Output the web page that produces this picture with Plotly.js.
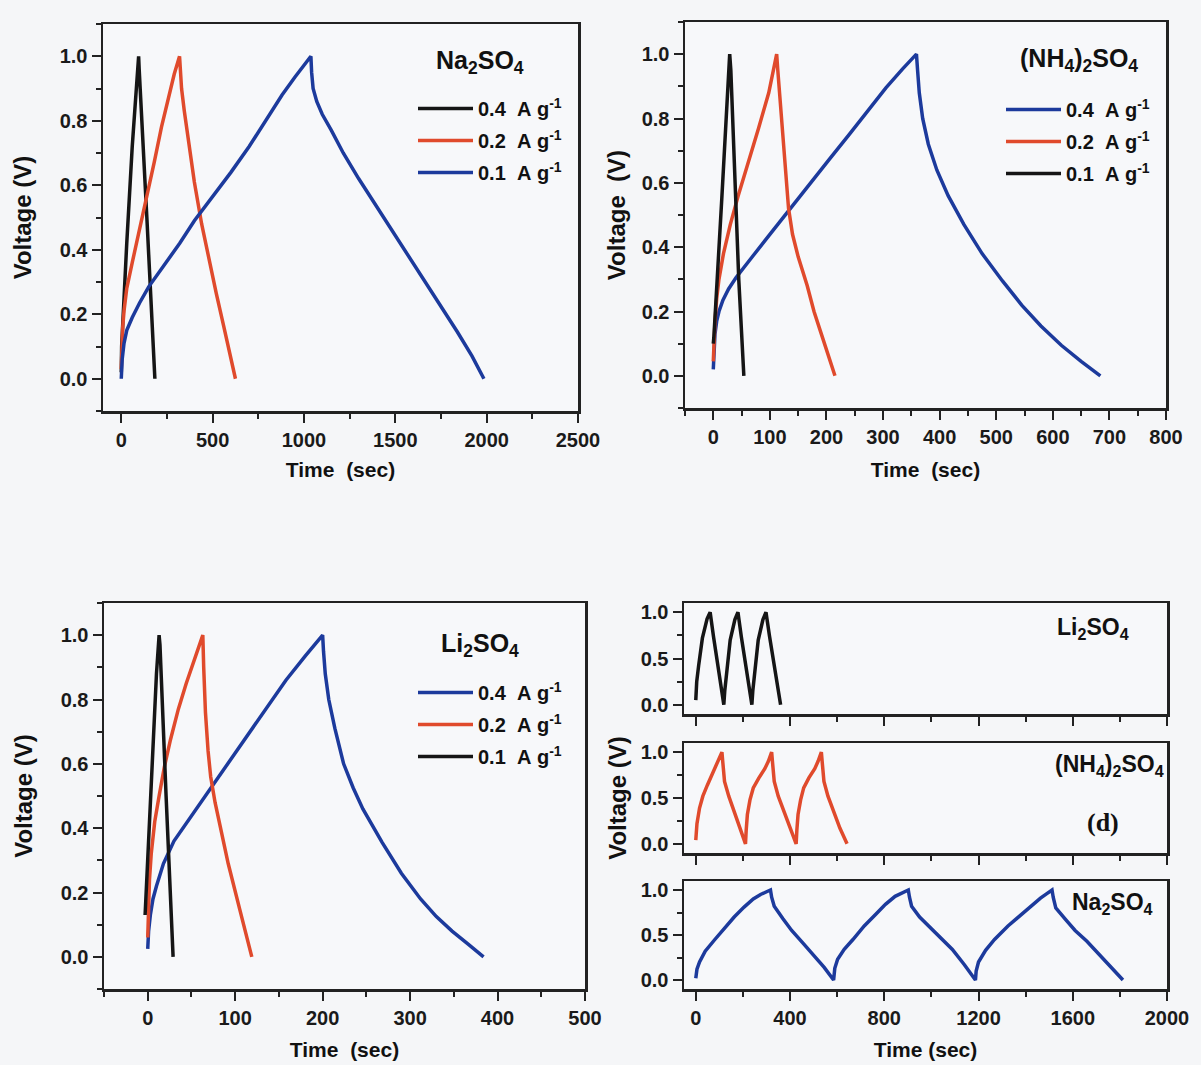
<!DOCTYPE html>
<html>
<head>
<meta charset="utf-8">
<script src="https://cdn.plot.ly/plotly-3.0.1.min.js"></script>
<style>html,body{margin:0;padding:0;background:#f5f6f8;}#chart{width:1201px;height:1065px;}</style>
</head>
<body>
<div id="chart"></div>
<script>
// ---------- DATA ----------
// Panel (a): Na2SO4, three current densities
const naSeries = ['0.4\u00a0\u00a0A\u00a0g<sup>-1</sup>', '0.2\u00a0\u00a0A\u00a0g<sup>-1</sup>', '0.1\u00a0\u00a0A\u00a0g<sup>-1</sup>'];
const naBlackT = [0, 2, 30, 60, 95, 98, 140, 184];
const naBlackV = [0.02, 0.1, 0.42, 0.72, 1.0, 0.96, 0.5, 0.0];
const naRedT = [0, 3, 8, 15, 30, 60, 100, 140, 180, 220, 260, 290, 319, 322, 330, 345, 370, 400, 440, 480, 520, 560, 600, 625];
const naRedV = [0.03, 0.1, 0.16, 0.21, 0.28, 0.36, 0.46, 0.56, 0.67, 0.78, 0.88, 0.945, 1.0, 0.96, 0.9, 0.83, 0.73, 0.61, 0.48, 0.37, 0.265, 0.165, 0.07, 0.0];
const naBlueT = [0, 5, 15, 30, 60, 100, 150, 200, 260, 320, 400, 500, 600, 700, 800, 880, 950, 1000, 1038, 1042, 1050, 1070, 1100, 1150, 1215, 1300, 1420, 1520, 1630, 1740, 1840, 1920, 1985];
const naBlueV = [0.0, 0.06, 0.11, 0.15, 0.19, 0.235, 0.285, 0.325, 0.372, 0.42, 0.49, 0.565, 0.64, 0.72, 0.81, 0.88, 0.935, 0.97, 1.0, 0.95, 0.9, 0.86, 0.82, 0.77, 0.70, 0.62, 0.515, 0.425, 0.33, 0.235, 0.145, 0.07, 0.0];

// Panel (b): (NH4)2SO4
const nhSeries = ['0.4\u00a0\u00a0A\u00a0g<sup>-1</sup>', '0.2\u00a0\u00a0A\u00a0g<sup>-1</sup>', '0.1\u00a0\u00a0A\u00a0g<sup>-1</sup>'];
const nhBlueT = [0, 1, 3, 6, 10, 17, 27, 40, 55, 71, 100, 139, 170, 206, 240, 274, 305, 335, 359, 361, 364, 370, 380, 395, 415, 443, 475, 511, 545, 579, 615, 650, 684];
const nhBlueV = [0.02, 0.08, 0.13, 0.17, 0.2, 0.235, 0.27, 0.305, 0.34, 0.375, 0.44, 0.525, 0.595, 0.675, 0.75, 0.825, 0.895, 0.955, 1.0, 0.95, 0.88, 0.8, 0.72, 0.64, 0.56, 0.47, 0.38, 0.295, 0.22, 0.155, 0.095, 0.045, 0.0];
const nhRedT = [0, 1, 3, 6, 10, 18, 30, 44, 60, 80, 98, 112, 114, 118, 123, 128, 133, 140, 150, 166, 178, 190, 203, 215];
const nhRedV = [0.045, 0.1, 0.17, 0.24, 0.3, 0.38, 0.47, 0.56, 0.65, 0.77, 0.88, 1.0, 0.95, 0.86, 0.74, 0.62, 0.52, 0.44, 0.37, 0.28, 0.2, 0.135, 0.065, 0.0];
const nhBlackT = [0, 1, 15, 29, 31, 45, 54];
const nhBlackV = [0.1, 0.12, 0.55, 1.0, 0.95, 0.3, 0.0];

// Panel (c): Li2SO4
const liSeries = ['0.4\u00a0\u00a0A\u00a0g<sup>-1</sup>', '0.2\u00a0\u00a0A\u00a0g<sup>-1</sup>', '0.1\u00a0\u00a0A\u00a0g<sup>-1</sup>'];
const liBlueT = [0, 1, 3, 6, 10, 18, 30, 48, 70, 92, 114, 136, 158, 180, 192, 200, 201, 203, 207, 214, 224, 235, 246, 268, 290, 312, 330, 348, 366, 384];
const liBlueV = [0.025, 0.08, 0.13, 0.18, 0.22, 0.29, 0.36, 0.43, 0.515, 0.60, 0.69, 0.775, 0.86, 0.935, 0.975, 1.0, 0.95, 0.88, 0.8, 0.71, 0.60, 0.525, 0.46, 0.356, 0.26, 0.18, 0.125, 0.08, 0.04, 0.0];
const liRedT = [0, 1, 2, 4, 8, 13, 19, 26, 35, 44, 53, 63, 64, 66, 69, 72, 77, 84, 92, 105, 119];
const liRedV = [0.06, 0.17, 0.24, 0.32, 0.42, 0.5, 0.59, 0.675, 0.77, 0.85, 0.92, 1.0, 0.9, 0.76, 0.64, 0.56, 0.48, 0.39, 0.29, 0.15, 0.0];
const liBlackT = [-3, -1, 2, 6, 10, 13, 14, 21, 29];
const liBlackV = [0.13, 0.25, 0.45, 0.7, 0.88, 1.0, 0.97, 0.5, 0.0];

// Panel (d): cycling at fixed current
const cycLiT = [0, 4, 12, 28, 48, 61, 75, 90, 105, 119, 123, 131, 146, 166, 179, 193, 208, 223, 238, 242, 250, 265, 285, 298, 313, 329, 345, 360];
const cycLiV = [0.05, 0.25, 0.42, 0.72, 0.93, 1.0, 0.74, 0.48, 0.23, 0.0, 0.15, 0.33, 0.70, 0.92, 1.0, 0.74, 0.48, 0.23, 0.0, 0.15, 0.33, 0.70, 0.92, 1.0, 0.74, 0.48, 0.23, 0.0];
const cycNhT = [0, 5, 16, 30, 49, 65, 81, 96, 111, 115, 122, 140, 163, 190, 211, 214, 219, 230, 244, 268, 293, 308, 322, 326, 333, 350, 373, 400, 426, 429, 434, 445, 458, 480, 505, 519, 533, 537, 544, 561, 584, 612, 642];
const cycNhV = [0.04, 0.22, 0.39, 0.52, 0.64, 0.73, 0.82, 0.9, 1.0, 0.88, 0.68, 0.52, 0.36, 0.17, 0.0, 0.15, 0.32, 0.48, 0.61, 0.72, 0.82, 0.9, 1.0, 0.88, 0.68, 0.52, 0.36, 0.17, 0.0, 0.15, 0.32, 0.48, 0.61, 0.72, 0.82, 0.9, 1.0, 0.88, 0.68, 0.52, 0.36, 0.17, 0.0];
const cycNaT = [0, 5, 16, 40, 81, 120, 163, 205, 244, 275, 300, 317, 322, 333, 370, 407, 455, 504, 545, 585, 590, 602, 630, 667, 715, 764, 805, 846, 875, 902, 907, 916, 950, 992, 1040, 1089, 1140, 1187, 1190, 1200, 1230, 1268, 1325, 1382, 1425, 1463, 1490, 1512, 1517, 1528, 1570, 1610, 1660, 1707, 1760, 1813];
const cycNaV = [0.02, 0.12, 0.2, 0.32, 0.45, 0.57, 0.70, 0.81, 0.9, 0.95, 0.98, 1.0, 0.92, 0.82, 0.68, 0.55, 0.41, 0.27, 0.14, 0.0, 0.13, 0.23, 0.34, 0.45, 0.6, 0.73, 0.84, 0.93, 0.97, 1.0, 0.92, 0.82, 0.7, 0.59, 0.465, 0.34, 0.17, 0.0, 0.1, 0.2, 0.33, 0.45, 0.6, 0.73, 0.83, 0.91, 0.96, 1.0, 0.92, 0.80, 0.67, 0.55, 0.43, 0.30, 0.15, 0.0];

const panelLabels = ['Na<sub>2</sub>SO<sub>4</sub>', '(NH<sub>4</sub>)<sub>2</sub>SO<sub>4</sub>', 'Li<sub>2</sub>SO<sub>4</sub>'];

// ---------- STYLE ----------
const BLACK = '#151515', RED = '#e04a2c', BLUE = '#1c3a9c';
const FONT = 'Liberation Sans, Arial, sans-serif';
const LW = 3.5;

function tr(x, y, color, name, xa, ya, legend, show) {
  return {x: x, y: y, type: 'scatter', mode: 'lines', name: name,
    line: {color: color, width: LW}, xaxis: xa, yaxis: ya,
    legend: legend, showlegend: show, legendgroup: name + xa, hoverinfo: 'skip'};
}

const traces = [
  tr(naBlackT, naBlackV, BLACK, naSeries[0], 'x', 'y', 'legend', true),
  tr(naRedT, naRedV, RED, naSeries[1], 'x', 'y', 'legend', true),
  tr(naBlueT, naBlueV, BLUE, naSeries[2], 'x', 'y', 'legend', true),
  tr(nhBlueT, nhBlueV, BLUE, nhSeries[0], 'x2', 'y2', 'legend2', true),
  tr(nhRedT, nhRedV, RED, nhSeries[1], 'x2', 'y2', 'legend2', true),
  tr(nhBlackT, nhBlackV, BLACK, nhSeries[2], 'x2', 'y2', 'legend2', true),
  tr(liBlueT, liBlueV, BLUE, liSeries[0], 'x3', 'y3', 'legend3', true),
  tr(liRedT, liRedV, RED, liSeries[1], 'x3', 'y3', 'legend3', true),
  tr(liBlackT, liBlackV, BLACK, liSeries[2], 'x3', 'y3', 'legend3', true),
  tr(cycNaT, cycNaV, BLUE, 'Na2SO4', 'x4', 'y4', 'legend', false),
  tr(cycLiT, cycLiV, BLACK, 'Li2SO4', 'x5', 'y5', 'legend', false),
  tr(cycNhT, cycNhV, RED, '(NH4)2SO4', 'x6', 'y6', 'legend', false)
];

const W = 1201, H = 1065;
const px = (a, b) => [a / W, b / W];
const py = (top, bot) => [1 - bot / H, 1 - top / H];

function minor(d) {
  return {ticks: 'outside', ticklen: 5, tickwidth: 2, tickcolor: '#222', dtick: d, showgrid: false};
}
function axis(extra) {
  return Object.assign({
    showline: true, linewidth: 2.5, linecolor: '#222', mirror: true,
    ticks: 'outside', ticklen: 9, tickwidth: 2, tickcolor: '#222',
    showgrid: false, zeroline: false, fixedrange: true,
    tickfont: {family: FONT, size: 20, color: '#1a1a1a', weight: 'bold'}
  }, extra);
}
const xTitleFont = {family: FONT, size: 21, color: '#111', weight: 'bold'};
const yTitleFont = {family: FONT, size: 24, color: '#111', weight: 'bold'};

const legendBase = {
  bgcolor: 'rgba(0,0,0,0)', borderwidth: 0, xanchor: 'left', yanchor: 'top',
  font: {family: FONT, size: 20, color: '#111', weight: 'bold'},
  tracegroupgap: 3, itemwidth: 55, itemclick: false, itemdoubleclick: false
};

function label(text, x, y, size, family) {
  return {text: text, xref: 'paper', yref: 'paper', x: x / W, y: 1 - y / H,
    xanchor: 'center', yanchor: 'middle', showarrow: false,
    font: {family: family || FONT, size: size, color: '#111', weight: 'bold'}};
}

const layout = {
  width: W, height: H, margin: {l: 0, r: 0, t: 0, b: 0},
  paper_bgcolor: '#f5f6f8', plot_bgcolor: '#f7f8fa',
  font: {family: FONT},
  // Panel a
  xaxis: axis({domain: px(103, 578), range: [-100, 2500], dtick: 500, tick0: 0, anchor: 'y', minor: minor(250),
    title: {text: 'Time\u00a0\u00a0(sec)', font: xTitleFont, standoff: 13}}),
  yaxis: axis({domain: py(24, 411), range: [-0.1, 1.1], dtick: 0.2, tick0: 0, tickformat: '.1f', anchor: 'x', minor: minor(0.1),
    title: {text: 'Voltage (V)', font: yTitleFont, standoff: 22}}),
  // Panel b
  xaxis2: axis({domain: px(685, 1166), range: [-50, 800], dtick: 100, tick0: 0, anchor: 'y2', minor: minor(50),
    title: {text: 'Time\u00a0\u00a0(sec)', font: xTitleFont, standoff: 16}}),
  yaxis2: axis({domain: py(22, 408), range: [-0.1, 1.1], dtick: 0.2, tick0: 0, tickformat: '.1f', anchor: 'x2', minor: minor(0.1),
    title: {text: 'Voltage\u00a0\u00a0(V)', font: yTitleFont, standoff: 10}}),
  // Panel c
  xaxis3: axis({domain: px(104, 585), range: [-50, 500], dtick: 100, tick0: 0, anchor: 'y3', minor: minor(50),
    title: {text: 'Time\u00a0\u00a0(sec)', font: xTitleFont, standoff: 15}}),
  yaxis3: axis({domain: py(603, 989), range: [-0.1, 1.1], dtick: 0.2, tick0: 0, tickformat: '.1f', anchor: 'x3', minor: minor(0.1),
    title: {text: 'Voltage (V)', font: yTitleFont, standoff: 22}}),
  // Panel d (stacked)
  xaxis4: axis({domain: px(684, 1167), range: [-50, 2000], dtick: 400, tick0: 0, anchor: 'y4', minor: minor(200),
    title: {text: 'Time (sec)', font: xTitleFont, standoff: 15}}),
  xaxis5: axis({domain: px(684, 1167), range: [-50, 2000], dtick: 400, tick0: 0, anchor: 'y5', matches: 'x4',
    showticklabels: false, minor: minor(200)}),
  xaxis6: axis({domain: px(684, 1167), range: [-50, 2000], dtick: 400, tick0: 0, anchor: 'y6', matches: 'x4',
    showticklabels: false, minor: minor(200)}),
  yaxis4: axis({domain: py(881, 989), range: [-0.1, 1.1], dtick: 0.5, tick0: 0, tickformat: '.1f', anchor: 'x4', minor: minor(0.25)}),
  yaxis5: axis({domain: py(603, 714), range: [-0.1, 1.1], dtick: 0.5, tick0: 0, tickformat: '.1f', anchor: 'x5', minor: minor(0.25)}),
  yaxis6: axis({domain: py(743, 853), range: [-0.1, 1.1], dtick: 0.5, tick0: 0, tickformat: '.1f', anchor: 'x6', minor: minor(0.25),
    title: {text: 'Voltage (V)', font: yTitleFont, standoff: 8}}),
  legend: Object.assign({}, legendBase, {x: 413 / W, y: 1 - 89 / H}),
  legend2: Object.assign({}, legendBase, {x: 1001 / W, y: 1 - 90 / H}),
  legend3: Object.assign({}, legendBase, {x: 413 / W, y: 1 - 673 / H}),
  annotations: [
    label(panelLabels[0], 480, 62, 25),
    label(panelLabels[1], 1079, 60, 25),
    label(panelLabels[2], 480, 645, 25),
    label(panelLabels[2], 1093, 628, 23),
    label(panelLabels[1], 1109, 765, 23),
    label(panelLabels[0], 1112, 903, 23),
    label('(d)', 1103, 822, 26, 'Liberation Serif, Times New Roman, serif')
  ]
};

Plotly.newPlot('chart', traces, layout, {staticPlot: true, displayModeBar: false});
</script>
</body>
</html>
